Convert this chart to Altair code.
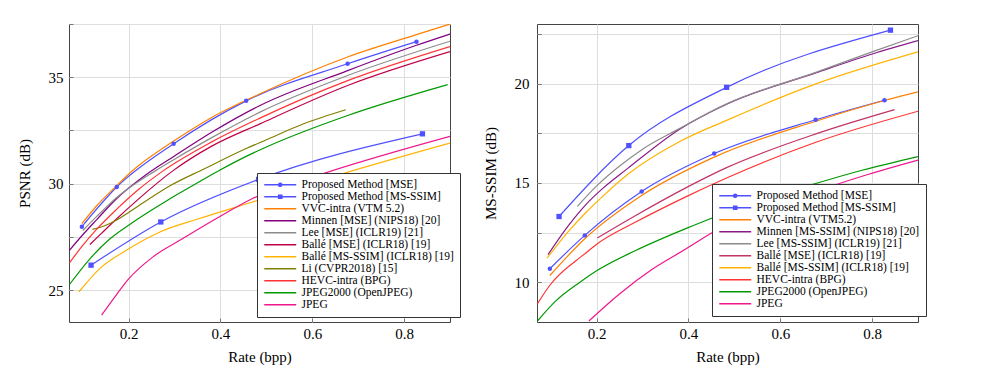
import altair as alt
import pandas as pd

# ---------------- data: PSNR panel ----------------
psnr_names = ["Proposed Method [MSE]", "Proposed Method [MS-SSIM]", "VVC-intra (VTM 5.2)",
              "Minnen [MSE] (NIPS18) [20]", "Lee [MSE] (ICLR19) [21]", "Ballé [MSE] (ICLR18) [19]",
              "Ballé [MS-SSIM] (ICLR18) [19]", "Li (CVPR2018) [15]", "HEVC-intra (BPG)",
              "JPEG2000 (OpenJPEG)", "JPEG"]
psnr_colors = ["#5050ff", "#5050ff", "#ff8000", "#800080", "#8c8c8c", "#c00048",
               "#ffb300", "#808000", "#ff3333", "#009900", "#f0168c"]

p_mse_rate = [0.098, 0.174, 0.298, 0.456, 0.677, 0.827]
p_mse_psnr = [27.98, 29.84, 31.87, 33.89, 35.63, 36.67]
p_ms_rate = [0.118, 0.27, 0.483, 0.84]
p_ms_psnr = [26.17, 28.2, 30.2, 32.34]
vvc_rate = [0.098, 0.13, 0.176, 0.205, 0.298, 0.38, 0.486, 0.677, 0.827, 0.9]
vvc_psnr = [28.12, 28.95, 29.95, 30.55, 32.0, 33.1, 34.22, 35.95, 37.0, 37.5]
minnen_rate = [0.071, 0.1, 0.13, 0.174, 0.24, 0.3, 0.38, 0.486, 0.677, 0.827, 0.9]
minnen_psnr = [26.87, 27.6, 28.3, 29.3, 30.45, 31.3, 32.4, 33.67, 35.31, 36.5, 37.03]
lee_rate = [0.1, 0.13, 0.174, 0.258, 0.3, 0.38, 0.486, 0.677, 0.9]
lee_psnr = [27.8, 28.45, 29.35, 30.6, 31.15, 32.15, 33.36, 35.08, 36.69]
balle_mse_rate = [0.1156, 0.14, 0.174, 0.22, 0.296, 0.38, 0.486, 0.677, 0.9]
balle_mse_psnr = [27.14, 27.65, 28.35, 29.25, 30.6, 31.75, 32.81, 34.61, 36.2]
balle_ms_rate = [0.0917, 0.137, 0.195, 0.268, 0.354, 0.47, 0.667, 0.9]
balle_ms_psnr = [24.92, 26.01, 26.87, 27.73, 28.36, 29.14, 30.47, 31.9]
li_rate = [0.121, 0.145, 0.175, 0.2, 0.235, 0.29, 0.365, 0.456, 0.499, 0.58, 0.673]
li_psnr = [27.85, 28.0, 28.3, 28.65, 29.15, 29.9, 30.7, 31.65, 32.05, 32.8, 33.47]
bpg_rate = [0.071, 0.1, 0.13, 0.174, 0.22, 0.275, 0.38, 0.486, 0.677, 0.9]
bpg_psnr = [26.28, 27.1, 27.85, 28.8, 29.7, 30.6, 31.95, 33.08, 34.84, 36.44]
j2k_rate = [0.071, 0.116, 0.16, 0.21, 0.283, 0.355, 0.4, 0.456, 0.5, 0.677, 0.895]
j2k_psnr = [25.26, 26.48, 27.42, 28.2, 29.2, 30.1, 30.65, 31.28, 31.72, 33.2, 34.65]
jpeg_rate = [0.141, 0.174, 0.199, 0.253, 0.318, 0.391, 0.47, 0.624, 0.9]
jpeg_psnr = [23.82, 24.8, 25.5, 26.56, 27.42, 28.36, 29.3, 30.47, 32.22]

# ---------------- data: MS-SSIM panel ----------------
ssim_names = ["Proposed Method [MSE]", "Proposed Method [MS-SSIM]", "VVC-intra (VTM5.2)",
              "Minnen [MS-SSIM] (NIPS18) [20]", "Lee [MS-SSIM] (ICLR19) [21]", "Ballé [MSE] (ICLR18) [19]",
              "Ballé [MS-SSIM] (ICLR18) [19]", "HEVC-intra (BPG)", "JPEG2000 (OpenJPEG)", "JPEG"]
ssim_colors = ["#5050ff", "#5050ff", "#ff8000", "#8a1a8a", "#8c8c8c", "#c03468",
               "#ffb300", "#ff3333", "#009900", "#f0168c"]

s_p_mse_rate = [0.098, 0.174, 0.298, 0.456, 0.677, 0.827]
s_p_mse = [10.68, 12.36, 14.57, 16.48, 18.18, 19.16]
s_p_ms_rate = [0.118, 0.27, 0.483, 0.84]
s_p_ms = [13.31, 16.88, 19.81, 22.69]
s_vvc_rate = [0.098, 0.174, 0.298, 0.456, 0.679, 0.829, 0.9]
s_vvc = [10.34, 12.19, 14.37, 16.3, 18.12, 19.16, 19.58]
s_minnen_rate = [0.094, 0.14, 0.176, 0.212, 0.267, 0.379, 0.483, 0.679, 0.802, 0.9]
s_minnen = [11.39, 12.9, 13.9, 14.7, 15.72, 17.68, 18.96, 20.55, 21.5, 22.16]
s_lee_rate = [0.158, 0.2, 0.25, 0.3, 0.379, 0.483, 0.679, 0.8, 0.9]
s_lee = [13.82, 14.85, 15.85, 16.7, 17.72, 18.98, 20.58, 21.6, 22.41]
s_balle_mse_rate = [0.2015, 0.285, 0.394, 0.483, 0.679, 0.849]
s_balle_mse = [12.23, 13.36, 14.75, 15.77, 17.48, 18.69]
s_balle_ms_rate = [0.0918, 0.14, 0.176, 0.212, 0.27, 0.379, 0.483, 0.679, 0.9]
s_balle_ms = [11.21, 12.6, 13.5, 14.3, 15.47, 17.06, 18.15, 20.0, 21.6]
s_bpg_rate = [0.071, 0.098, 0.1745, 0.2015, 0.285, 0.394, 0.483, 0.679, 0.9]
s_bpg = [8.92, 9.85, 11.44, 11.94, 13.03, 14.3, 15.25, 17.06, 18.61]
s_j2k_rate = [0.071, 0.111, 0.162, 0.2015, 0.285, 0.394, 0.459, 0.55, 0.66, 0.78, 0.9]
s_j2k = [8.05, 9.06, 9.98, 10.6, 11.6, 12.7, 13.3, 14.05, 14.85, 15.65, 16.33]
s_jpeg_rate = [0.183, 0.249, 0.321, 0.394, 0.459, 0.55, 0.65, 0.78, 0.9]
s_jpeg = [8.05, 9.4, 10.65, 11.67, 12.59, 13.5, 14.35, 15.35, 16.15]

x_ticks = [0.2, 0.4, 0.6, 0.8]
psnr_ticks = [25, 27.5, 30, 32.5, 35, 37.5]
ssim_ticks = [10, 12.5, 15, 17.5, 20, 22.5]

# legend glyphs (line, line+circle, line+square), drawn as custom symbol paths
LINE = "M-1 0H6.1"
CIRC = LINE + "M2.18 0A0.37 0.37 0 1 0 2.92 0A0.37 0.37 0 1 0 2.18 0ZM2.43 0A0.12 0.12 0 1 0 2.67 0A0.12 0.12 0 1 0 2.43 0Z"
SQR = LINE + "M2.18 -0.37H2.92V0.37H2.18ZM2.43 -0.12H2.67V0.12H2.43Z"

FONT = "Times New Roman, Liberation Serif, DejaVu Serif, serif"
AX = dict(labelFont=FONT, titleFont=FONT, labelFontSize=15, titleFontSize=15, titleFontWeight="normal",
          labelColor="black", titleColor="black", gridColor="#dedede", gridWidth=1, domain=False,
          tickSize=4, offset=-4, tickColor="#777777")


def frame(names, rates, vals):
    rows = []
    for n, r, v in zip(names, rates, vals):
        for a, b in zip(r, v):
            rows.append({"series": n, "rate": a, "val": b})
    return pd.DataFrame(rows)


def panel(names, colors, rates, vals, ydom, yticks, ytitle, lx, ly, ylabpad):
    df = frame(names, rates, vals)
    xs = alt.Scale(domain=[0.07, 0.9], nice=False, zero=False)
    ys = alt.Scale(domain=ydom, nice=False, zero=False)
    xaxis = alt.Axis(values=x_ticks, format=".1f", title="Rate (bpp)", labelPadding=4, titlePadding=8, **AX)
    yaxis = alt.Axis(values=yticks, title=ytitle, labelPadding=ylabpad, titlePadding=16,
                     labelExpr="datum.value % 5 === 0 ? format(datum.value, 'd') : ''", **AX)
    shapes = [CIRC, SQR] + [LINE] * (len(names) - 2)
    leg = alt.Legend(title=None, orient="none", legendX=lx, legendY=ly,
                     labelFont=FONT, labelFontSize=11.5, labelColor="black", labelLimit=0,
                     symbolSize=81, symbolStrokeWidth=1.3, symbolOpacity=1,
                     labelOffset=27, rowPadding=-1.2, padding=6,
                     strokeColor="#333333", fillColor="white")
    sscale = alt.Scale(domain=names, range=colors)

    lines = alt.Chart(df).mark_line(interpolate="monotone", strokeWidth=1.2, clip=True).encode(
        x=alt.X("rate:Q", scale=xs, axis=xaxis),
        y=alt.Y("val:Q", scale=ys, axis=yaxis),
        stroke=alt.Stroke("series:N", scale=sscale, legend=leg),
        order="rate:Q",
    )
    circles = alt.Chart(df[df.series == names[0]]).mark_circle(size=20, color=colors[0], opacity=1).encode(
        x=alt.X("rate:Q", scale=xs), y=alt.Y("val:Q", scale=ys))
    squares = alt.Chart(df[df.series == names[1]]).mark_square(size=28, color=colors[1], opacity=1).encode(
        x=alt.X("rate:Q", scale=xs), y=alt.Y("val:Q", scale=ys))
    legend_layer = alt.Chart(df).transform_filter("false").mark_point(
        filled=False, size=81, strokeWidth=1.3, opacity=1).encode(
        x=alt.X("rate:Q", scale=xs), y=alt.Y("val:Q", scale=ys),
        stroke=alt.Stroke("series:N", scale=sscale, legend=leg),
        shape=alt.Shape("series:N", scale=alt.Scale(domain=names, range=shapes), legend=leg),
    )
    return alt.layer(lines, circles, squares, legend_layer).properties(width=381, height=298)


left = panel(psnr_names, psnr_colors,
             [p_mse_rate, p_ms_rate, vvc_rate, minnen_rate, lee_rate, balle_mse_rate, balle_ms_rate,
              li_rate, bpg_rate, j2k_rate, jpeg_rate],
             [p_mse_psnr, p_ms_psnr, vvc_psnr, minnen_psnr, lee_psnr, balle_mse_psnr, balle_ms_psnr,
              li_psnr, bpg_psnr, j2k_psnr, jpeg_psnr],
             [23.5, 37.5], psnr_ticks, "PSNR (dB)", 188, 149, 6)
right = panel(ssim_names, ssim_colors,
              [s_p_mse_rate, s_p_ms_rate, s_vvc_rate, s_minnen_rate, s_lee_rate, s_balle_mse_rate,
               s_balle_ms_rate, s_bpg_rate, s_j2k_rate, s_jpeg_rate],
              [s_p_mse, s_p_ms, s_vvc, s_minnen, s_lee, s_balle_mse, s_balle_ms, s_bpg, s_j2k, s_jpeg],
              [8, 23], ssim_ticks, "MS-SSIM (dB)", 175, 160, 8)

chart = alt.hconcat(left, right, spacing=21).resolve_scale(
    shape="independent", stroke="independent", x="independent", y="independent"
).properties(
    padding={"left": 8, "top": 15, "right": 5, "bottom": 5}
).configure(font=FONT).configure_view(stroke="#444444", strokeWidth=1).configure_axis(
    labelFont=FONT, titleFont=FONT
)

chart.save("out.html", embed_options={"renderer": "svg", "actions": False})
